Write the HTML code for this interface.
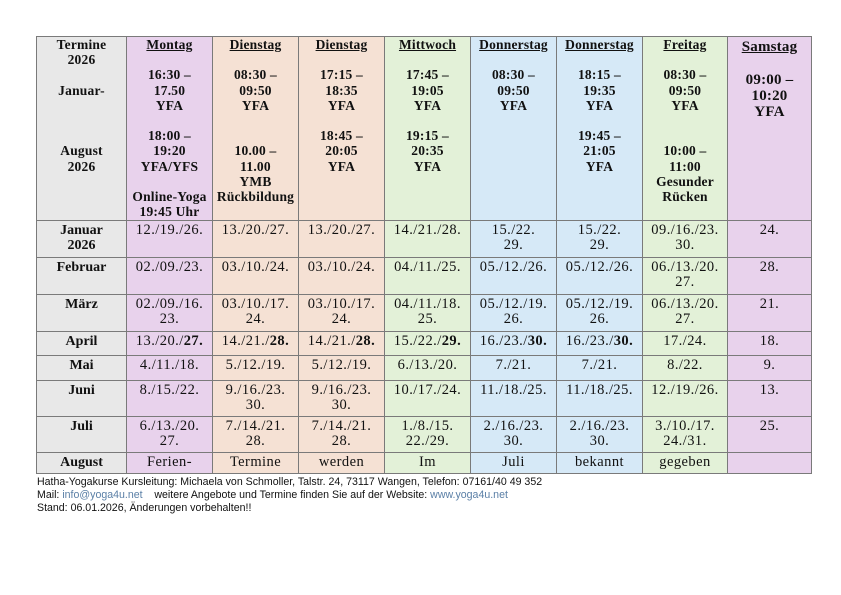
<!DOCTYPE html>
<html><head><meta charset="utf-8"><style>
body{margin:0;width:841px;height:595px;background:#fff;position:relative;overflow:hidden}
table{position:absolute;left:36px;top:36px;border-collapse:collapse;table-layout:fixed;font-family:"Liberation Serif",serif;font-size:14.5px;line-height:15px;color:#111}
td{border:1px solid #7a7a7a;text-align:center;vertical-align:top;padding:0;overflow:hidden;white-space:nowrap}
.g{background:#e8e8e8}.p{background:#e8d2ec}.o{background:#f5e1d4}.n{background:#e3f1d8}.b{background:#d6e9f7}
.h td{font-weight:bold;padding-top:0;font-size:13.5px;line-height:15.2px;letter-spacing:0.2px}
.h u{text-decoration:underline}
.m{font-weight:bold;font-size:14px}
.r td{padding-top:2px}
.r td:not(.m){letter-spacing:0.45px}
.f{position:absolute;left:37px;font-family:"Liberation Sans",sans-serif;font-size:10.6px;color:#111;white-space:nowrap}
.l{color:#5a7fa6}
</style></head><body>
<table>
<colgroup><col style="width:90px"><col style="width:86px"><col style="width:86px"><col style="width:86px"><col style="width:86px"><col style="width:86px"><col style="width:86px"><col style="width:85px"><col style="width:84px"></colgroup>
<tr class="h" style="height:184px">
<td class="g">Termine<br>2026<br><br>Januar-<br><br><br><br>August<br>2026</td>
<td class="p"><u>Montag</u><br><br>16:30 –<br>17.50<br>YFA<br><br>18:00 –<br>19:20<br>YFA/YFS<br><br>Online-Yoga<br>19:45 Uhr</td>
<td class="o"><u>Dienstag</u><br><br>08:30 –<br>09:50<br>YFA<br><br><br>10.00 –<br>11.00<br>YMB<br>Rückbildung</td>
<td class="o"><u>Dienstag</u><br><br>17:15 –<br>18:35<br>YFA<br><br>18:45 –<br>20:05<br>YFA</td>
<td class="n"><u>Mittwoch</u><br><br>17:45 –<br>19:05<br>YFA<br><br>19:15 –<br>20:35<br>YFA</td>
<td class="b"><u>Donnerstag</u><br><br>08:30 –<br>09:50<br>YFA</td>
<td class="b"><u>Donnerstag</u><br><br>18:15 –<br>19:35<br>YFA<br><br>19:45 –<br>21:05<br>YFA</td>
<td class="n"><u>Freitag</u><br><br>08:30 –<br>09:50<br>YFA<br><br><br>10:00 –<br>11:00<br>Gesunder<br>Rücken</td>
<td class="p" style="font-size:15px;line-height:16.3px;padding-top:2px;font-weight:bold"><u>Samstag</u><br><br>09:00 –<br>10:20<br>YFA</td>
</tr>
<tr class="r" style="height:37px"><td class="g m">Januar<br>2026</td><td class="p">12./19./26.</td><td class="o">13./20./27.</td><td class="o">13./20./27.</td><td class="n">14./21./28.</td><td class="b">15./22.<br>29.</td><td class="b">15./22.<br>29.</td><td class="n">09./16./23.<br>30.</td><td class="p">24.</td></tr>
<tr class="r" style="height:37px"><td class="g m">Februar</td><td class="p">02./09./23.</td><td class="o">03./10./24.</td><td class="o">03./10./24.</td><td class="n">04./11./25.</td><td class="b">05./12./26.</td><td class="b">05./12./26.</td><td class="n">06./13./20.<br>27.</td><td class="p">28.</td></tr>
<tr class="r" style="height:37px"><td class="g m">März</td><td class="p">02./09./16.<br>23.</td><td class="o">03./10./17.<br>24.</td><td class="o">03./10./17.<br>24.</td><td class="n">04./11./18.<br>25.</td><td class="b">05./12./19.<br>26.</td><td class="b">05./12./19.<br>26.</td><td class="n">06./13./20.<br>27.</td><td class="p">21.</td></tr>
<tr class="r" style="height:24px"><td class="g m">April</td><td class="p">13./20./<b>27.</b></td><td class="o">14./21./<b>28.</b></td><td class="o">14./21./<b>28.</b></td><td class="n">15./22./<b>29.</b></td><td class="b">16./23./<b>30.</b></td><td class="b">16./23./<b>30.</b></td><td class="n">17./24.</td><td class="p">18.</td></tr>
<tr class="r" style="height:25px"><td class="g m">Mai</td><td class="p">4./11./18.</td><td class="o">5./12./19.</td><td class="o">5./12./19.</td><td class="n">6./13./20.</td><td class="b">7./21.</td><td class="b">7./21.</td><td class="n">8./22.</td><td class="p">9.</td></tr>
<tr class="r" style="height:36px"><td class="g m">Juni</td><td class="p">8./15./22.</td><td class="o">9./16./23.<br>30.</td><td class="o">9./16./23.<br>30.</td><td class="n">10./17./24.</td><td class="b">11./18./25.</td><td class="b">11./18./25.</td><td class="n">12./19./26.</td><td class="p">13.</td></tr>
<tr class="r" style="height:36px"><td class="g m">Juli</td><td class="p">6./13./20.<br>27.</td><td class="o">7./14./21.<br>28.</td><td class="o">7./14./21.<br>28.</td><td class="n">1./8./15.<br>22./29.</td><td class="b">2./16./23.<br>30.</td><td class="b">2./16./23.<br>30.</td><td class="n">3./10./17.<br>24./31.</td><td class="p">25.</td></tr>
<tr class="r" style="height:21px"><td class="g m">August</td><td class="p">Ferien-</td><td class="o">Termine</td><td class="o">werden</td><td class="n">Im</td><td class="b">Juli</td><td class="b">bekannt</td><td class="n">gegeben</td><td class="p"></td></tr>
</table>
<div class="f" style="top:476px">Hatha-Yogakurse Kursleitung: Michaela von Schmoller, Talstr. 24, 73117 Wangen, Telefon: 07161/40 49 352</div>
<div class="f" style="top:489px">Mail: <span class="l">info@yoga4u.net</span>&nbsp;&nbsp;&nbsp; weitere Angebote und Termine finden Sie auf der Website: <span class="l">www.yoga4u.net</span></div>
<div class="f" style="top:502px">Stand: 06.01.2026, Änderungen vorbehalten!!</div>
</body></html>
